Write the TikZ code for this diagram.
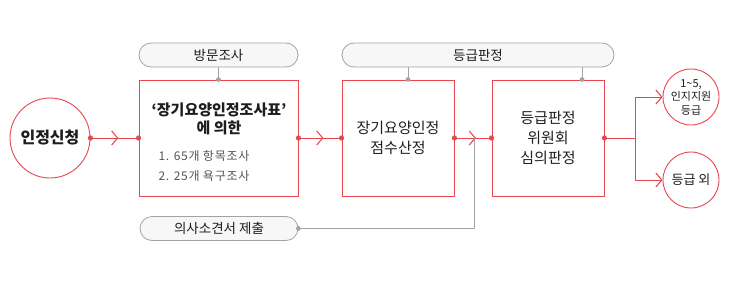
\documentclass[tikz,border=0pt]{standalone}
\usepackage{fontspec}
\setmainfont{Noto Sans CJK KR}
\usetikzlibrary{arrows.meta, positioning, decorations.markings}
\definecolor{flowred}{HTML}{E8474F}
\definecolor{linegray}{HTML}{A3A3A3}
\definecolor{pillgray}{HTML}{F7F7F7}
\definecolor{inktext}{HTML}{1E1E1E}
\definecolor{listtext}{HTML}{555555}

\tikzset{chev/.tip={Straight Barb[length=6pt, width=14pt, line width=1.1pt]}}

\begin{document}
\begin{tikzpicture}[
  x=1pt, y=-1pt,
  every node/.style={font=\fontsize{13.5}{15}\selectfont, text=inktext},
  stepbox/.style={
    draw=flowred, line width=0.9pt, fill=white, minimum height=116pt,
    inner sep=0pt, align=center, font=\fontsize{15}{20}\selectfont
  },
  pill/.style={
    draw=linegray, line width=0.8pt, fill=pillgray, rounded corners=12pt,
    minimum height=24pt, inner sep=0pt
  },
  endcircle/.style={
    circle, draw=flowred, line width=0.9pt, fill=white, inner sep=0pt, align=center
  },
  redline/.style={draw=flowred, line width=0.9pt},
  grayline/.style={draw=linegray, line width=0.8pt},
  midchev/.style={
    postaction={decorate},
    decoration={markings, mark=at position 0.58 with {\arrow{chev}}}
  },
  listitem/.style={anchor=west, text=listtext, font=\fontsize{12}{14}\selectfont\addfontfeature{LetterSpace=6}}
]
\useasboundingbox (0,0) rectangle (741,287);

% --- Start and process boxes ---
\node[endcircle, minimum size=80pt, font=\fontsize{16}{18}\selectfont\bfseries] (apply) at (50,138) {인정신청};
\node[stepbox, minimum width=159pt] (survey) at (218.5,138) {};
\node[stepbox, minimum width=112pt] (score) at (398,138) {장기요양인정\\점수산정};
\node[stepbox, minimum width=112pt] (review) at (548,138) {등급판정\\위원회\\심의판정};

% --- Texts in the survey box ---
\node[align=center, font=\fontsize{15}{18}\selectfont\bfseries] (surveytitle) at (219,119) {‘장기요양인정조사표’\\에 의한};
\node[listitem] (item1) at (155,156) {1. 65개 항목조사};
\node[listitem] (item2) at (155,176) {2. 25개 욕구조사};

% --- Grey pills ---
\node[pill, minimum width=159pt] (visit) at (218.5,55) {방문조사};
\node[pill, minimum width=272pt] (grade) at (478,55) {등급판정};
\node[pill, minimum width=158pt] (doctor) at (219,228.5) {의사소견서 제출};

% --- Result circles ---
\node[endcircle, minimum size=56pt, font=\fontsize{11}{13.5}\selectfont] (upper) at (691,97) {1\textasciitilde5,\\인지지원\\등급};
\node[endcircle, minimum size=56pt, font=\fontsize{13}{15}\selectfont] (lower) at (691,180) {등급 외};

% --- Helper points ---
\coordinate (scoretop) at ([xshift=10pt]score.north);
\coordinate (reviewtop) at ([xshift=34pt]review.north);
\coordinate (docjoin) at (474,138);
\coordinate (branch) at ([xshift=31pt]review.east);

% --- Red flow ---
\draw[redline, midchev] (apply) -- (survey);
\draw[redline, midchev] (survey) -- (score);
\draw[redline, midchev] (score) -- (review);
\draw[redline] (review) -- (branch);
\draw[redline, -{chev}] (branch) |- (upper);
\draw[redline, -{chev}] (branch) |- (lower);

% --- Grey inputs ---
\draw[grayline] (visit) -- (survey);
\draw[grayline] (grade.south -| scoretop) -- (scoretop);
\draw[grayline] (grade.south -| reviewtop) -- (reviewtop);
\draw[grayline] (doctor.east) -| (docjoin);

% --- Dots ---
\foreach \p in {apply.east, survey.west, survey.east, score.west, score.east, review.west, review.east}
  \fill[flowred] (\p) circle (2.6pt);
\foreach \p in {survey.north, scoretop, reviewtop, doctor.east}
  \fill[linegray] (\p) circle (2.4pt);

\end{tikzpicture}
\end{document}
